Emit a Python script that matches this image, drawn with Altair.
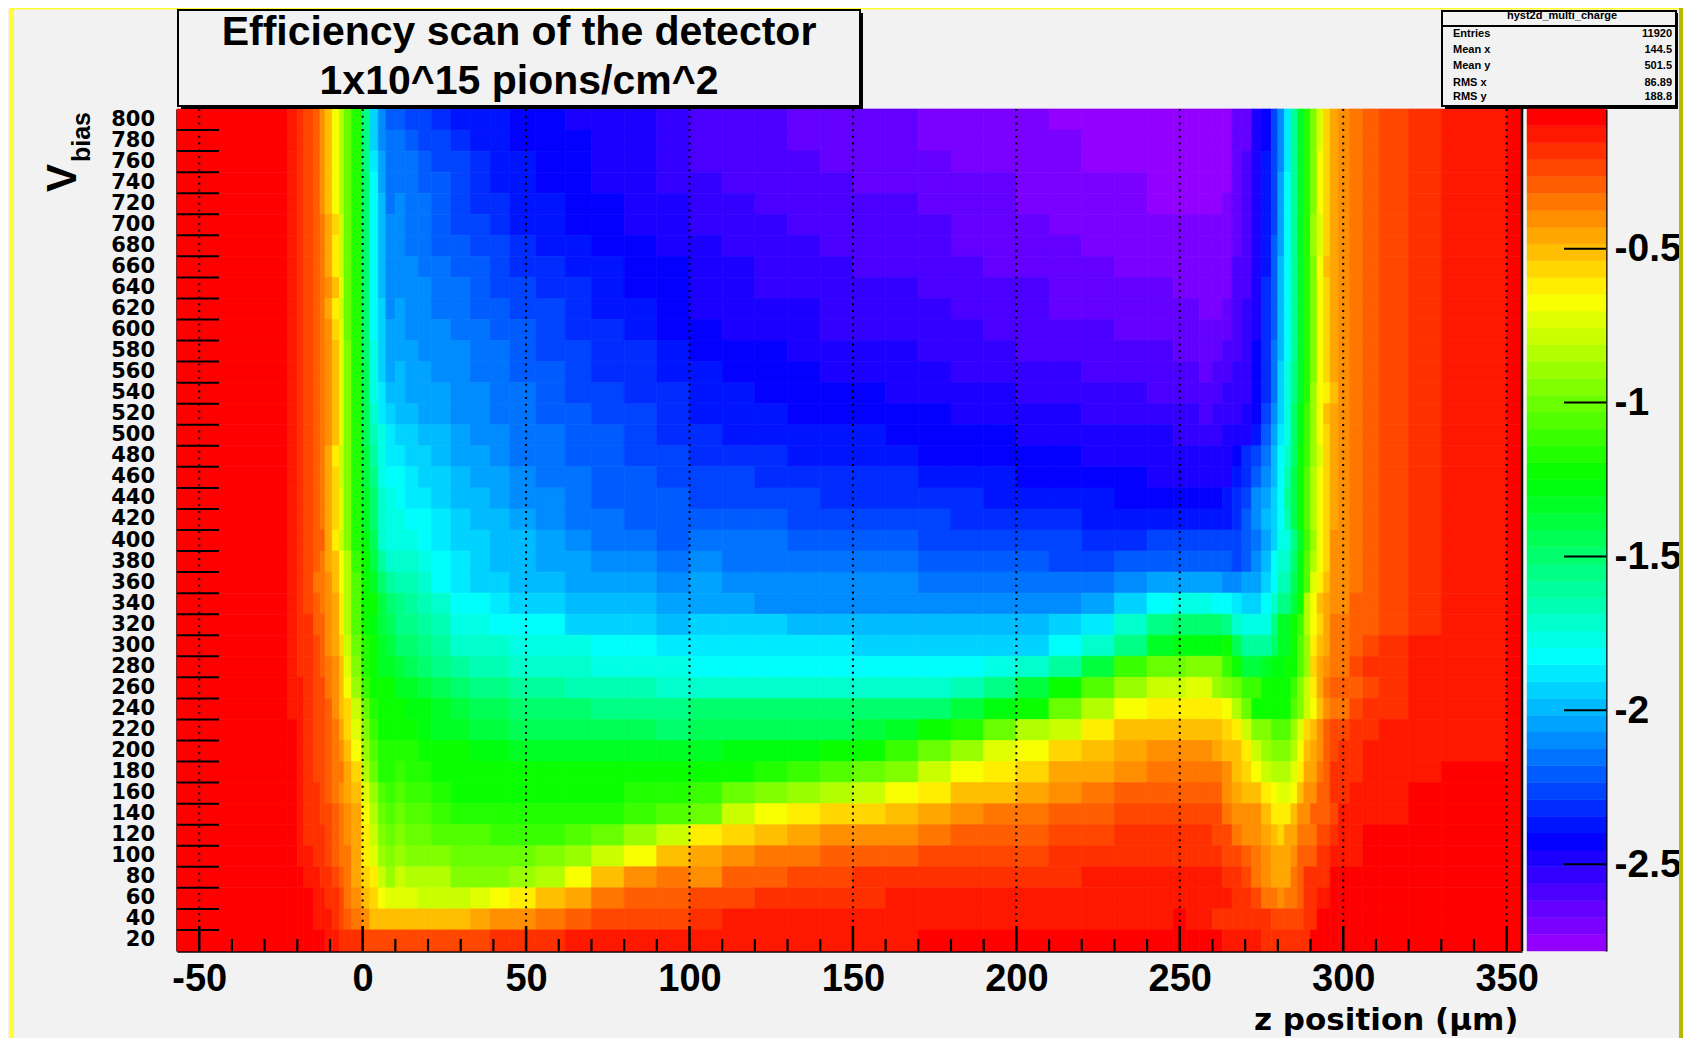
import colorsys
import altair as alt
import pandas as pd

# Column edges of the 2-D histogram (z position, um)
LEFT_EDGES = [-56.8,-23,-20,-18,-15,-13,-11.5,-9.3,-7.1,-5.7,-3.4,-0.3,2.2,4.8,7.1,10]
NEAR_EDGES = [10,13,17,21,27,33,39,45,53,62,70,80,90,100]
MID_EDGES = [100,110,120,130,140,150,160,170,180,190,200,210,220,230,240,248,252,256,260,263,266]
RIGHT_EDGES = [266,269,272,275,278,280,282,284,286,288,290,292,294,296,298.5,302,306,311,320,330,350,354.7]

V_ROWS = list(range(800, 0, -20))

# Colour level (0..49 of the palette) read per row, V=800 first
LEFT = [
[49,48,47,46,45,43,41,38,35,32,29,22,15,12,10],
[49,48,47,46,45,43,41,38,35,32,29,22,15,12,11],
[49,48,47,46,45,43,41,38,35,32,29,22,16,13,11],
[49,48,47,46,45,43,41,38,35,32,29,23,17,13,11],
[49,48,47,46,45,43,41,38,35,32,29,23,17,14,11],
[49,48,47,46,45,44,42,40,36,32,29,23,17,14,12],
[49,48,47,46,45,44,42,39,36,32,29,23,17,14,12],
[49,48,47,46,45,44,42,39,36,32,29,23,17,14,12],
[49,48,47,46,45,44,43,41,37,32,29,23,17,14,12],
[49,48,47,46,45,44,42,39,36,32,29,23,17,15,12],
[49,48,47,46,45,44,43,40,37,32,29,23,17,15,13],
[49,48,47,46,45,44,43,41,37,33,29,23,18,15,13],
[49,48,47,46,45,44,43,41,37,33,29,24,18,15,13],
[49,48,47,46,45,44,43,41,37,33,29,24,18,16,14],
[49,48,47,46,45,44,43,41,37,33,29,24,19,16,15],
[49,48,47,46,45,44,43,41,37,33,29,24,20,18,16],
[49,48,47,46,45,44,42,39,36,33,29,25,21,18,16],
[49,48,47,46,45,44,42,40,36,33,29,25,22,18,17],
[49,48,47,46,45,44,42,40,37,33,29,26,23,19,18],
[49,48,47,46,45,44,42,40,37,33,29,26,23,19,18],
[49,48,47,46,45,45,42,39,36,33,29,27,24,19,18],
[49,48,47,46,45,44,42,41,38,35,30,28,25,21,19],
[49,48,47,46,44,44,43,41,38,35,31,28,26,23,21],
[49,48,47,46,45,44,43,42,39,35,31,28,28,25,23],
[49,48,47,47,45,45,43,42,39,35,31,28,27,25,24],
[49,48,47,47,46,45,43,42,40,36,32,29,28,26,25],
[49,48,47,47,46,45,44,43,41,37,33,29,28,26,26],
[49,48,48,47,46,46,44,43,41,38,34,30,28,28,28],
[49,48,48,47,46,46,45,43,41,40,36,32,29,28,28],
[49,49,48,47,46,46,45,44,42,40,37,33,30,28,28],
[49,49,48,47,46,46,45,44,43,41,38,34,31,29,29],
[49,49,48,47,46,46,45,44,44,42,40,35,32,29,29],
[49,49,48,47,47,46,45,44,43,42,41,37,34,31,30],
[49,49,48,47,47,46,46,45,44,43,42,38,35,32,31],
[49,49,48,47,47,47,46,45,44,43,42,39,36,33,32],
[49,49,48,48,47,47,46,45,44,44,42,39,37,34,33],
[49,49,49,48,48,47,47,46,45,44,42,40,39,36,34],
[49,49,49,49,48,48,47,47,46,44,43,41,40,38,37],
[49,49,49,49,48,48,48,47,46,45,44,43,41,41,41],
[49,49,49,49,49,49,48,48,47,47,47,46,46,46,46],
]

NEAR = [
[10,9,9,8,7,7,7,6,6,5,5,5,4],
[11,10,9,9,8,7,7,6,6,6,5,5,4],
[11,11,10,9,9,8,7,7,6,6,5,5,4],
[11,11,10,10,9,8,7,7,6,6,5,5,4],
[12,11,11,10,9,8,8,7,7,6,6,5,5],
[12,11,11,10,9,9,8,7,7,6,6,5,5],
[12,11,11,10,10,9,9,8,7,7,6,6,5],
[12,12,11,11,10,10,9,8,8,7,7,6,6],
[12,12,12,11,11,10,9,9,8,8,7,6,6],
[13,12,12,11,11,10,10,9,9,8,7,7,6],
[13,12,12,12,11,11,10,10,9,8,8,7,6],
[13,13,12,12,12,11,11,10,9,9,8,8,7],
[14,13,13,12,12,11,11,10,10,9,8,8,7],
[14,13,13,13,12,12,11,11,10,9,9,8,8],
[14,14,13,13,12,12,11,11,10,10,9,9,8],
[15,15,14,14,13,12,12,11,11,10,10,9,8],
[16,15,15,14,13,13,12,11,11,10,10,9,9],
[17,16,15,15,14,13,13,12,11,11,10,10,9],
[17,16,16,15,14,14,13,12,12,11,10,10,10],
[18,17,17,16,15,14,14,13,12,11,11,10,10],
[18,18,17,16,15,15,14,14,13,12,11,11,10],
[19,19,18,17,16,15,14,14,13,13,12,12,11],
[20,20,19,17,16,15,15,14,14,13,13,13,12],
[22,21,20,19,17,17,16,15,15,14,14,14,13],
[22,22,21,20,18,18,17,17,17,15,15,15,14],
[23,23,22,21,19,19,19,18,18,18,17,17,16],
[25,24,23,22,21,20,20,19,19,19,18,18,18],
[26,26,25,24,23,22,22,21,21,20,20,20,19],
[28,27,27,26,25,24,24,23,23,23,22,22,22],
[28,28,27,26,26,25,25,24,24,24,24,24,23],
[29,29,28,28,28,27,27,26,26,26,26,26,26],
[30,29,29,28,28,28,28,28,28,28,28,28,28],
[31,30,30,29,28,28,28,28,28,28,28,29,29],
[32,31,31,30,29,29,29,29,29,29,29,30,31],
[33,32,32,31,31,31,30,30,30,31,32,34,36],
[34,33,33,33,32,32,32,32,33,34,36,38,41],
[36,35,35,35,33,33,33,34,35,38,41,43,44],
[37,37,36,36,36,37,38,39,41,42,44,45,45],
[41,41,41,41,41,42,43,43,44,45,46,46,46],
[46,46,46,46,46,46,47,47,47,48,48,48,48],
]

MID = [
[3,3,3,2,2,2,2,1,1,1,1,0,0,0,0,0,0,0,0,0],
[3,3,3,2,2,2,2,1,1,1,1,1,0,0,0,0,0,0,0,0],
[3,3,3,3,2,2,2,2,1,1,1,1,0,0,0,0,0,0,0,0],
[4,3,3,3,3,2,2,2,2,2,1,1,1,1,0,0,0,0,0,0],
[4,4,3,3,3,3,3,2,2,2,1,1,1,1,0,0,0,0,0,1],
[4,4,4,3,3,3,3,3,2,2,2,1,1,1,1,1,1,1,1,1],
[5,4,4,4,3,3,3,3,2,2,2,2,1,1,1,1,1,1,1,1],
[5,5,4,4,4,3,3,3,3,2,2,2,2,1,1,1,1,1,1,1],
[5,5,4,4,4,4,4,3,3,3,3,2,2,2,2,1,1,1,1,1],
[5,5,5,5,4,4,4,4,3,3,3,2,2,2,2,2,2,1,1,2],
[6,5,5,5,4,4,4,4,4,3,3,3,3,2,2,2,2,2,2,2],
[6,6,6,5,5,5,5,4,4,4,3,3,3,3,3,2,2,2,2,3],
[7,6,6,6,5,5,5,5,4,4,4,4,3,3,3,3,3,2,3,3],
[7,7,6,6,6,6,5,5,5,5,4,4,4,4,3,3,3,3,3,4],
[7,7,7,6,6,6,6,6,5,5,5,5,4,4,4,4,4,3,4,4],
[8,7,7,7,7,7,6,6,6,6,5,5,5,5,5,4,4,4,4,5],
[8,8,8,7,7,7,7,6,6,6,6,6,5,5,5,5,5,5,5,5],
[9,9,8,8,8,8,8,7,7,7,6,6,6,6,5,5,5,5,5,5],
[9,9,9,9,8,8,8,8,8,7,7,7,7,6,6,6,6,6,6,7],
[10,10,10,9,9,9,9,9,8,8,8,8,7,7,7,7,7,7,7,7],
[11,11,11,10,10,10,10,9,9,9,9,9,8,8,9,9,9,9,9,9],
[12,11,11,11,11,11,11,10,10,10,10,9,9,10,10,10,10,10,10,10],
[13,12,12,12,12,12,12,11,11,11,11,11,11,12,13,13,13,13,13,12],
[13,13,12,12,12,12,12,12,12,12,12,12,13,15,17,18,18,18,17,17],
[15,15,15,14,14,14,14,14,14,14,14,15,16,19,22,23,23,23,23,22],
[16,16,16,16,16,15,15,15,15,15,15,17,19,22,26,27,27,27,27,28],
[17,17,17,17,17,17,17,17,17,18,19,21,25,30,32,32,33,33,33,30],
[19,19,19,19,19,19,19,19,20,22,25,28,31,34,36,36,37,37,34,33],
[23,23,23,23,23,23,23,23,25,27,28,32,35,38,39,39,39,39,39,38],
[24,24,24,24,24,25,26,28,29,32,35,36,39,41,41,41,41,41,41,40],
[26,27,27,27,28,28,30,32,34,37,38,40,41,42,43,43,43,43,42,41],
[28,28,29,30,31,32,33,36,38,39,40,42,42,43,44,44,44,44,44,43],
[30,32,33,34,35,36,38,39,41,41,42,43,44,45,45,45,45,45,45,43],
[32,36,38,39,40,40,41,42,43,44,44,45,45,46,46,46,46,46,46,44],
[39,40,41,42,43,43,43,44,45,45,45,46,46,47,47,47,47,47,46,46],
[42,43,44,44,45,45,45,46,46,46,46,47,47,47,47,47,47,47,47,46],
[43,45,45,46,46,47,47,47,47,47,47,47,48,48,48,48,48,48,48,47],
[46,46,47,47,47,47,48,48,48,48,48,48,48,48,48,48,48,48,48,48],
[47,48,48,48,48,48,48,48,48,48,48,48,48,48,48,49,48,48,47,47],
[48,48,48,48,48,48,48,49,49,49,49,49,49,49,49,49,49,49,49,48],
]

RIGHT = [
[2,2,5,6,9,12,16,21,26,29,33,37,40,42,43,44,45,46,47,48,49],
[2,2,5,6,9,12,16,21,26,29,33,37,40,42,43,44,45,46,47,48,49],
[2,3,5,7,9,12,16,21,26,29,33,38,40,42,43,44,45,46,47,48,49],
[2,3,5,7,9,13,17,21,26,29,33,38,40,42,43,44,45,46,47,48,49],
[2,3,5,7,9,13,17,21,26,29,33,38,40,42,43,44,45,46,47,48,49],
[2,3,5,7,9,13,17,21,26,29,34,37,40,42,43,44,45,46,47,48,49],
[2,3,5,7,10,13,17,21,26,29,34,37,40,42,43,44,45,46,47,48,49],
[3,3,5,7,10,14,17,21,26,29,33,38,41,42,43,44,45,46,47,48,49],
[3,3,5,8,10,14,17,21,26,29,33,38,40,42,43,44,45,46,47,48,49],
[3,4,5,8,10,14,17,21,26,29,33,38,40,42,43,44,45,46,47,48,49],
[3,4,5,8,10,14,17,21,26,29,33,38,40,42,43,44,45,46,47,48,49],
[3,4,6,8,11,14,17,21,26,29,33,38,40,42,43,44,45,46,47,48,49],
[4,4,6,8,11,15,18,22,26,29,33,38,40,42,43,44,45,46,47,48,49],
[4,4,6,8,11,15,18,22,26,29,34,38,39,41,43,44,45,46,47,48,49],
[4,5,6,9,12,15,18,23,27,30,34,38,41,42,43,44,45,46,47,48,49],
[5,5,7,10,13,16,18,23,27,30,34,38,40,42,43,44,45,46,47,48,49],
[6,8,9,11,14,17,19,23,28,30,34,37,40,42,43,44,45,46,47,48,49],
[7,8,10,12,14,17,20,24,28,31,35,38,40,42,43,44,45,46,47,48,49],
[8,9,12,13,15,17,21,24,28,31,35,38,40,42,43,44,45,46,47,48,49],
[8,10,12,14,15,17,20,24,28,31,35,38,40,42,43,44,45,46,47,48,49],
[9,10,11,13,15,18,18,22,26,30,34,38,40,43,43,44,45,46,47,48,49],
[9,10,12,14,17,19,19,23,27,31,35,38,40,43,43,44,45,46,47,48,49],
[12,13,13,15,17,20,20,24,27,31,37,39,41,43,43,44,45,46,47,48,49],
[16,15,15,17,19,22,22,25,28,35,38,41,42,43,43,45,45,46,47,48,49],
[19,18,18,18,22,26,26,28,30,35,38,40,42,44,44,45,45,46,47,48,49],
[24,21,21,21,23,26,26,28,31,34,39,41,42,44,44,45,46,47,48,48,49],
[28,25,25,26,27,27,28,28,31,34,40,42,43,44,44,46,47,47,48,48,49],
[32,30,30,28,28,28,28,30,33,36,39,42,44,45,45,45,46,47,48,48,49],
[35,32,28,28,28,28,28,31,33,36,38,41,43,44,44,46,47,47,48,48,49],
[39,36,33,33,31,31,31,34,37,40,41,43,45,46,46,47,47,48,48,48,49],
[41,39,36,34,33,33,33,35,38,41,42,43,45,46,47,47,48,48,48,48,49],
[41,40,38,36,35,35,35,37,39,42,42,44,45,47,47,47,48,48,48,49,49],
[42,41,41,39,38,37,37,38,41,43,43,45,45,47,47,48,48,48,49,49,49],
[43,43,43,41,39,39,39,41,43,43,45,45,45,46,48,48,48,48,49,49,49],
[44,43,43,42,41,40,42,42,44,44,44,46,46,47,48,48,49,49,49,49,49],
[46,45,44,43,42,42,42,43,45,45,45,47,47,48,48,48,49,49,49,49,49],
[47,46,44,43,42,42,42,44,45,47,47,47,47,49,49,49,49,49,49,49,49],
[47,47,46,44,44,43,44,44,45,47,47,48,48,49,49,49,49,49,49,49,49],
[47,47,47,47,46,46,46,46,46,47,47,49,49,49,49,49,49,49,49,49,49],
[48,48,48,47,47,47,47,47,47,47,49,49,49,49,49,49,49,49,49,49,49],
]

X_LABELS = [-50, 0, 50, 100, 150, 200, 250, 300, 350]
X_MINOR = [v for v in range(-40, 350, 10) if v % 50]
Y_LABELS = list(range(20, 820, 20))
Y_TICKS = list(range(30, 800, 20))
Z_LABELS = [-2.5, -2, -1.5, -1, -0.5]
STAT_NAMES = ["Entries", "Mean x", "Mean y", "RMS x", "RMS y"]
STAT_VALUES = ["11920", "144.5", "501.5", "86.89", "188.8"]

Z_MIN, Z_MAX = -2.782, -0.046
N_LEVELS = 50
PALETTE = []
for i in range(N_LEVELS):
    r, g, b = colorsys.hls_to_rgb((280 - (i + 1) * 5.6) / 360, 0.5, 1)
    PALETTE.append("#%02x%02x%02x" % (round(r * 255), round(g * 255), round(b * 255)))

cells = []
for r, v in enumerate(V_ROWS):
    for edges, table in ((LEFT_EDGES, LEFT), (NEAR_EDGES, NEAR), (MID_EDGES, MID), (RIGHT_EDGES, RIGHT)):
        assert len(table[r]) == len(edges) - 1, (v, len(table[r]), len(edges) - 1)
        for c, level in enumerate(table[r]):
            cells.append({"x": edges[c], "x2": edges[c + 1], "y": v - 10, "y2": v + 10, "level": level})
cells = pd.DataFrame(cells)

dz = (Z_MAX - Z_MIN) / N_LEVELS
bands = pd.DataFrame({"level": list(range(N_LEVELS)),
                      "z": [Z_MIN + i * dz for i in range(N_LEVELS)],
                      "z2": [Z_MIN + (i + 1) * dz for i in range(N_LEVELS)]})

FONT = "Liberation Sans"
W, H = 1345, 842
ONE = pd.DataFrame({"a": [0]})
level_scale = alt.Scale(domain=list(range(N_LEVELS)), range=PALETTE)
x_scale = alt.Scale(domain=[-56.8, 354.7], nice=False, zero=False)
y_scale = alt.Scale(domain=[10, 810], nice=False, zero=False)
z_scale = alt.Scale(domain=[Z_MIN, Z_MAX], nice=False, zero=False)


def box(x0, x1, y0, y1, fill, stroke=None, sw=0):
    kw = {"fill": fill, "strokeWidth": sw}
    if stroke:
        kw["stroke"] = stroke
    return alt.Chart(ONE).mark_rect(**kw).encode(
        x=alt.value(x0), x2=alt.value(x1), y=alt.value(y0), y2=alt.value(y1))


def label(text, x, y, size, align="center", angle=0, weight="bold", baseline="middle"):
    return alt.Chart(ONE).mark_text(text=text, font=FONT, fontSize=size, fontWeight=weight,
                                    align=align, baseline=baseline, angle=angle, color="black").encode(
        x=alt.value(x), y=alt.value(y))


def line(x0, x1, y0, y1, width=2.5, color="black"):
    return alt.Chart(ONE).mark_rule(color=color, strokeWidth=width).encode(
        x=alt.value(x0), x2=alt.value(x1), y=alt.value(y0), y2=alt.value(y1))


heat = alt.Chart(cells).mark_rect(strokeWidth=0.7).encode(
    x=alt.X("x:Q", scale=x_scale,
            axis=alt.Axis(values=X_LABELS, labelExpr="'' + datum.value", ticks=False, grid=False,
                          domainColor="black", domainWidth=2.5, labelFont=FONT, labelFontSize=38,
                          labelFontWeight="bold", labelColor="black", labelPadding=9, labelFlush=False,
                          labelOverlap=False, title="z position (\u00b5m)", titleFont="DejaVu Sans", titleFontSize=31,
                          titleFontWeight="bold", titleColor="black", titleAlign="right", titleAnchor="end",
                          titleX=1341, titleY=78, titleBaseline="alphabetic")),
    x2="x2:Q",
    y=alt.Y("y:Q", scale=y_scale,
            axis=alt.Axis(values=Y_LABELS, labels=False, ticks=False, grid=False, title=None,
                          domainColor="black", domainWidth=2.5, orient="left")),
    y2="y2:Q",
    color=alt.Color("level:O", scale=level_scale, legend=None),
    stroke=alt.Stroke("level:O", scale=level_scale, legend=None),
)

grid = alt.Chart(pd.DataFrame({"x": X_LABELS})).mark_rule(color="black", strokeWidth=2, strokeDash=[2, 4.7]).encode(
    x=alt.X("x:Q", scale=x_scale), y=alt.value(0), y2=alt.value(H))
major = alt.Chart(pd.DataFrame({"x": X_LABELS})).mark_rule(color="black", strokeWidth=2.5).encode(
    x=alt.X("x:Q", scale=x_scale), y=alt.value(H - 25), y2=alt.value(H))
minor = alt.Chart(pd.DataFrame({"x": X_MINOR})).mark_rule(color="black", strokeWidth=2.2).encode(
    x=alt.X("x:Q", scale=x_scale), y=alt.value(H - 12), y2=alt.value(H))
yticks = alt.Chart(pd.DataFrame({"y": Y_TICKS})).mark_rule(color="black", strokeWidth=2).encode(
    y=alt.Y("y:Q", scale=y_scale), x=alt.value(0), x2=alt.value(42))
ylabels = alt.Chart(pd.DataFrame({"y": Y_LABELS})).mark_text(
    font="DejaVu Sans", fontSize=21, fontWeight="bold", align="right", baseline="middle", color="black").encode(
    y=alt.Y("y:Q", scale=y_scale), x=alt.value(-22), text=alt.Text("y:Q"))

stat_rows = []
for name, value, y in zip(STAT_NAMES, STAT_VALUES, [-75, -59, -43, -26, -12]):
    stat_rows.append(label(name, 1276, y, 11, align="left"))
    stat_rows.append(label(value, 1495, y, 11, align="right"))

main = alt.layer(
    heat, grid, major, minor, yticks, ylabels,
    line(W, W, 0, H),
    box(4, 686, -96, 0, "black"),
    box(1, 683, -99, -3, "#f2f2f2", "black", 2),
    label("Efficiency scan of the detector", 342, -76, 41),
    label("1x10^15 pions/cm^2", 342, -27, 41),
    label("V", -114, 69, 42, angle=270),
    label("bias", -95, 28, 25, angle=270),
    box(1268, 1501, -96, 0, "black"),
    box(1265, 1499, -98, -3, "#f2f2f2", "black", 2),
    line(1265, 1499, -83, -83, 2),
    label("hyst2d_multi_charge", 1385, -93, 11),
    *stat_rows,
)

colorbar = alt.Chart(bands).mark_rect(strokeWidth=0.5).encode(
    x=alt.value(1350), x2=alt.value(1429),
    y=alt.Y("z:Q", scale=z_scale,
            axis=alt.Axis(values=Z_LABELS, labelExpr="'' + datum.value", ticks=False, grid=False, title=None,
                          orient="right", offset=84, domainColor="black", domainWidth=2, labelFont=FONT,
                          labelFontSize=39, labelFontWeight="bold", labelColor="black", labelPadding=8,
                          labelFlush=False, labelOverlap=False)),
    y2="z2:Q",
    color=alt.Color("level:O", scale=level_scale, legend=None),
    stroke=alt.Stroke("level:O", scale=level_scale, legend=None),
)
zticks = alt.Chart(pd.DataFrame({"z": Z_LABELS})).mark_rule(color="black", strokeWidth=2).encode(
    y=alt.Y("z:Q", scale=z_scale), x=alt.value(1387), x2=alt.value(1429))

frame = alt.layer(
    box(-168, -163, -101, 929, "#ffff33"),
    box(-168, 1502, -101, -99.5, "#ffff33"),
    box(1502, 1506, -101, 929, "#b8b800"),
)

chart = alt.layer(frame, main, alt.layer(colorbar, zticks)).resolve_scale(y="independent").properties(
    width=W, height=H,
    background="#f2f2f2",
    padding={"left": 169, "top": 101, "right": 161, "bottom": 87},
    autosize=alt.AutoSizeParams(type="none"),
).configure_view(stroke=None)

chart.save("out.html", embed_options={"renderer": "svg", "actions": False})
